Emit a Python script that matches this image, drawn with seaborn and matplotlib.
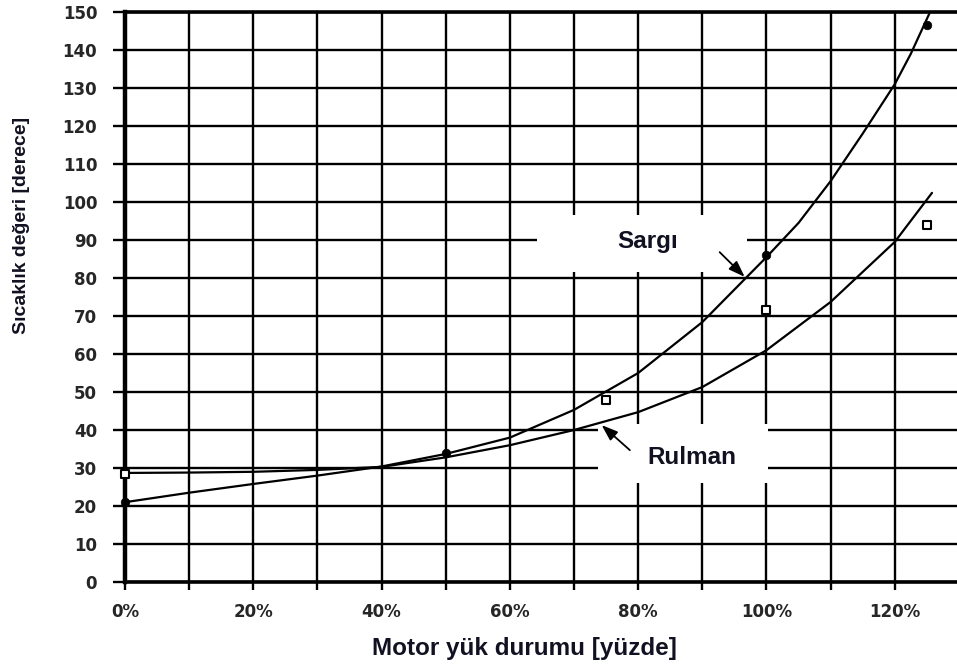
import matplotlib
matplotlib.use("Agg")
import matplotlib.pyplot as plt
from matplotlib.patches import Rectangle
import seaborn as sns
import pandas as pd

# Load fraction (1.0 = 100 %) and temperatures in degrees
curve_load = [0.0, 0.1, 0.2, 0.3, 0.4, 0.5, 0.6, 0.7, 0.8, 0.9, 1.0, 1.05, 1.1, 1.15, 1.2, 1.225, 1.255]
sargi_curve = [21.0, 23.5, 25.8, 28.0, 30.4, 33.7, 38.0, 45.3, 55.0, 68.4, 85.5, 94.5, 105.5, 118.0, 131.0, 139.0, 150.0]

rulman_load = [0.0, 0.1, 0.2, 0.3, 0.4, 0.5, 0.6, 0.7, 0.8, 0.9, 1.0, 1.1, 1.2, 1.258]
rulman_curve = [28.7, 28.8, 29.0, 29.5, 30.3, 32.8, 36.0, 40.0, 44.7, 51.3, 61.0, 73.7, 89.5, 102.4]

sargi_pts_load = [0.0, 0.5, 1.0, 1.25]
sargi_pts = [21.0, 34.0, 86.0, 146.5]

rulman_pts_load = [0.0, 0.75, 1.0, 1.25]
rulman_pts = [28.5, 48.0, 71.5, 94.0]

x_ticks = [0.0, 0.1, 0.2, 0.3, 0.4, 0.5, 0.6, 0.7, 0.8, 0.9, 1.0, 1.1, 1.2]
x_tick_labels = ["0%", "", "20%", "", "40%", "", "60%", "", "80%", "", "100%", "", "120%"]
y_ticks = list(range(0, 151, 10))

sns.set_style("white")
plt.rcParams["font.family"] = ["DejaVu Sans"]

fig = plt.figure(figsize=(9.57, 6.68), dpi=100)
ax = fig.add_axes([125 / 957, 86 / 668, 832 / 957, 570 / 668])

ax.set_xlim(0, 1.297)
ax.set_ylim(0, 150)
ax.set_xticks(x_ticks)
ax.set_xticklabels(x_tick_labels)
ax.set_yticks(y_ticks)
ax.set_yticklabels([str(v) for v in y_ticks])

ax.set_axisbelow(True)
ax.grid(True, color="black", linewidth=1.7, zorder=0)

# white label boxes that break the grid
ax.add_patch(Rectangle((0.642, 81.5), 0.327, 15.2, facecolor="white",
                       edgecolor="none", zorder=1.5))
ax.add_patch(Rectangle((0.737, 26.0), 0.265, 15.6, facecolor="white",
                       edgecolor="none", zorder=1.5))

df_s = pd.DataFrame({"load": curve_load, "temp": sargi_curve})
df_r = pd.DataFrame({"load": rulman_load, "temp": rulman_curve})
sns.lineplot(data=df_s, x="load", y="temp", ax=ax, color="black", lw=1.6,
             zorder=3, sort=False)
sns.lineplot(data=df_r, x="load", y="temp", ax=ax, color="black", lw=1.6,
             zorder=3, sort=False)

ps = pd.DataFrame({"load": sargi_pts_load, "temp": sargi_pts})
pr = pd.DataFrame({"load": rulman_pts_load, "temp": rulman_pts})
sns.scatterplot(data=ps, x="load", y="temp", ax=ax, color="black", s=38,
                marker="o", edgecolor="black", zorder=4, clip_on=False)
sns.scatterplot(data=pr, x="load", y="temp", ax=ax, facecolor="white", s=38,
                marker="s", edgecolor="black", linewidth=1.5, zorder=4,
                clip_on=False)

ax.text(0.814, 89.5, "Sargı", ha="center", va="center", fontsize=17.5,
        fontweight="bold", family="Liberation Sans", color="#111122", zorder=5)
ax.text(0.884, 32.8, "Rulman", ha="center", va="center", fontsize=17.5,
        fontweight="bold", family="Liberation Sans", color="#111122", zorder=5)

arrow = dict(arrowstyle="-|>,head_length=0.7,head_width=0.25", color="black",
             lw=1.3, mutation_scale=14, shrinkA=0, shrinkB=0)
ax.annotate("", xy=(0.966, 80.3), xytext=(0.927, 86.8), arrowprops=arrow, zorder=5)
ax.annotate("", xy=(0.743, 41.3), xytext=(0.787, 34.7), arrowprops=arrow, zorder=5)

for side in ["left", "bottom", "top"]:
    ax.spines[side].set_visible(True)
    ax.spines[side].set_color("black")
ax.spines["left"].set_linewidth(3.2)
ax.spines["bottom"].set_linewidth(2.6)
ax.spines["top"].set_linewidth(2.6)
ax.spines["right"].set_visible(False)

ax.tick_params(axis="y", which="both", left=True, length=9, width=1.7,
               pad=11, labelsize=12, color="black")
ax.tick_params(axis="x", which="both", bottom=True, length=6, width=1.7,
               pad=9, labelsize=12, color="black")
for lab in ax.get_xticklabels() + ax.get_yticklabels():
    lab.set_fontweight("bold")

ax.set_xlabel("")
ax.set_ylabel("")
fig.text(524 / 957, 1 - 648 / 668, "Motor yük durumu [yüzde]", ha="center",
         va="center", fontsize=17.5, fontweight="bold", family="Liberation Sans",
         color="#111122")
fig.text(22 / 957, 1 - 225 / 668, "Sıcaklık değeri [derece]", ha="center",
         va="center", rotation=90, fontsize=14, fontweight="bold",
         family="Liberation Sans", color="#111122")

fig.savefig("out.png", dpi=100)
